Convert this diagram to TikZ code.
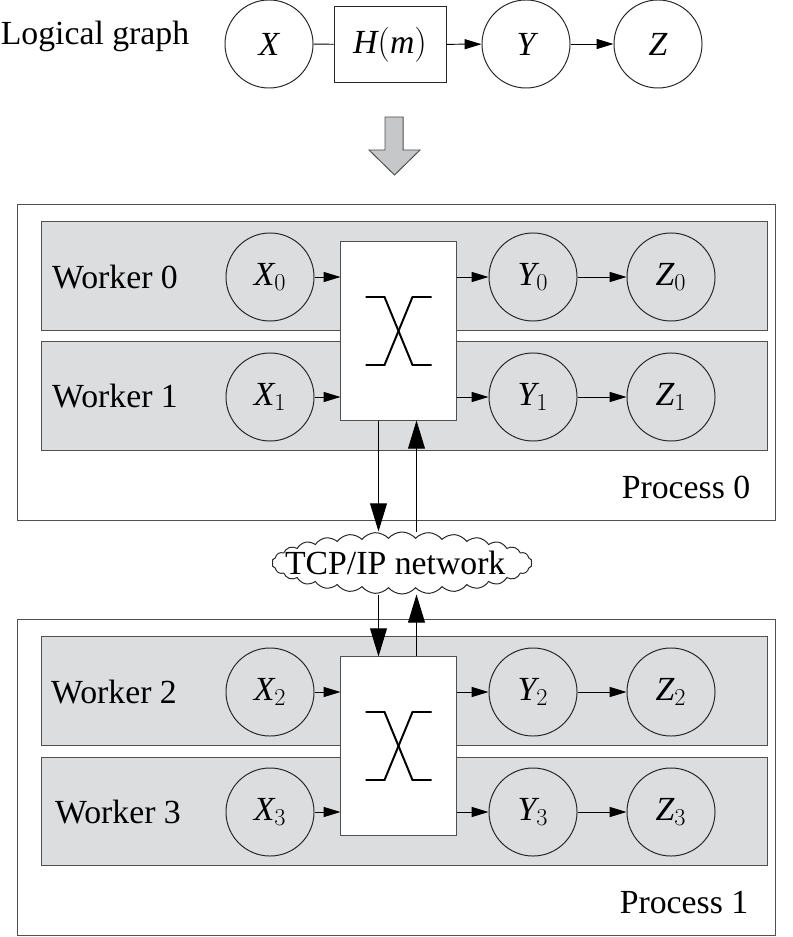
\documentclass[tikz,border=0pt]{standalone}
\usepackage{amsmath}
\usepackage{fontspec}
\setmainfont{Liberation Serif}
\usepackage{xcolor}
\usepackage{tikz}
\usetikzlibrary{positioning,calc,shapes,shapes.symbols,arrows.meta}
\definecolor{rowgray}{RGB}{220,221,223}
\definecolor{arrgray}{RGB}{198,199,201}
\definecolor{edgegray}{RGB}{80,80,80}
\tikzset{
    var/.style={
        circle,
        draw=black!85,
        minimum size=2.2cm,
        inner sep=0pt
    },
    worker/.style={
        rectangle,
        draw=edgegray,
        fill=rowgray,
        minimum width=18.125cm,
        minimum height=2.7cm
    },
    process/.style={
        rectangle,
        draw=edgegray,
        minimum width=18.925cm,
        minimum height=7.875cm
    }
}
\tikzstyle{func} = [rectangle, draw=black!85, minimum width=2.8cm, minimum height=1.875cm]
\tikzstyle{shuffle} = [rectangle, draw=edgegray, fill=white, minimum width=2.875cm, minimum height=4.45cm]
\tikzstyle{xline} = [line width=1.4pt, black]
\tikzstyle{arrow} = [line width=0.7pt, -{Triangle[length=0.42cm,width=0.25cm]}]
\tikzstyle{netarrow} = [line width=0.7pt, -{Triangle[length=0.7cm,width=0.42cm]}]
\begin{document}
\begin{tikzpicture}[x=0.025cm, y=-0.025cm, line width=0.7pt, font=\fontsize{24}{28}\selectfont]
          \useasboundingbox (0,0) rectangle (792,937);
          % logical graph
          \node (title) at (95,36) {Logical graph};
          \node (X) [var] at (269,44) {$\textit{X}$};
          \node (H) [func] at (390,44.5) {$\textit{H}(\textit{m})$};
          \node (Y) [var] at (526,44) {$\textit{Y}$};
          \node (Z) [var] at (658,44) {$\textit{Z}$};
          \draw (X) -- (H);
          \draw [arrow] (H) -- (Y);
          \draw [arrow] (Y) -- (Z);
          \draw [draw=edgegray, fill=arrgray] (385,117) -- (403,117) -- (403,150) -- (420,150)
                -- (394.5,175) -- (369,150) -- (385,150) -- cycle;
          % process 0
          \node (p0) [process] at (396.5,362.5) {};
          \node (w0) [worker] at (404.5,276) {};
          \node (w1) [worker] at (404.5,396) {};
          \node (sw0) [shuffle] at (398.5,331) {};
          \node (lw0) at (115,277) {Worker 0};
          \node (lw1) at (115,396) {Worker 1};
          \node (lp0) at (686,487) {Process 0};
          \node (x0) [var] at (270,277) {$\textit{X}_0$};
          \node (y0) [var] at (533,277) {$\textit{Y}_0$};
          \node (z0) [var] at (671,277) {$\textit{Z}_0$};
          \node (x1) [var] at (270,397) {$\textit{X}_1$};
          \node (y1) [var] at (533,397) {$\textit{Y}_1$};
          \node (z1) [var] at (671,397) {$\textit{Z}_1$};
          \draw [xline] ($(sw0)+(-33,-34)$) -- ++(19,0) -- ++(28,68) -- ++(19,0);
          \draw [xline] ($(sw0)+(-33,34)$) -- ++(19,0) -- ++(28,-68) -- ++(19,0);
          \draw [arrow] (x0) -- (x0 -| sw0.west);
          \draw [arrow] (x1) -- (x1 -| sw0.west);
          \draw [arrow] (sw0.east |- y0) -- (y0);
          \draw [arrow] (sw0.east |- y1) -- (y1);
          \draw [arrow] (y0) -- (z0);
          \draw [arrow] (y1) -- (z1);
          % process 1
          \node (p1) [process] at (396.5,777.5) {};
          \node (w2) [worker] at (404.5,691) {};
          \node (w3) [worker] at (404.5,811) {};
          \node (sw1) [shuffle] at (398.5,746) {};
          \node (lw2) at (114,692) {Worker 2};
          \node (lw3) at (118,812) {Worker 3};
          \node (lp1) at (684,903) {Process 1};
          \node (x2) [var] at (270,692) {$\textit{X}_2$};
          \node (y2) [var] at (533,692) {$\textit{Y}_2$};
          \node (z2) [var] at (671,692) {$\textit{Z}_2$};
          \node (x3) [var] at (270,812) {$\textit{X}_3$};
          \node (y3) [var] at (533,812) {$\textit{Y}_3$};
          \node (z3) [var] at (671,812) {$\textit{Z}_3$};
          \draw [xline] ($(sw1)+(-33,-34)$) -- ++(19,0) -- ++(28,68) -- ++(19,0);
          \draw [xline] ($(sw1)+(-33,34)$) -- ++(19,0) -- ++(28,-68) -- ++(19,0);
          \draw [arrow] (x2) -- (x2 -| sw1.west);
          \draw [arrow] (x3) -- (x3 -| sw1.west);
          \draw [arrow] (sw1.east |- y2) -- (y2);
          \draw [arrow] (sw1.east |- y3) -- (y3);
          \draw [arrow] (y2) -- (z2);
          \draw [arrow] (y3) -- (z3);
          % network
          \node (net) [cloud, cloud puffs=30, cloud puff arc=100, cloud ignores aspect,
                draw=black!85, fill=white, minimum width=6.5cm, minimum height=1.55cm, inner sep=0pt,
                label={[xshift=-0.17cm]center:TCP/IP network}] at (402,563) {};
          \coordinate (d0) at ($(sw0.south)+(-20,0)$);
          \coordinate (u0) at ($(sw0.south)+(18,0)$);
          \coordinate (d1) at ($(sw1.north)+(-20,0)$);
          \coordinate (u1) at ($(sw1.north)+(18,0)$);
          \draw [netarrow] (d0) -- (d0 |- net.north);
          \draw [netarrow] (u0 |- net.north) -- (u0);
          \draw [netarrow] (d0 |- net.south) -- (d1);
          \draw [netarrow] (u1) -- (u0 |- net.south);
        \end{tikzpicture}
\end{document}
